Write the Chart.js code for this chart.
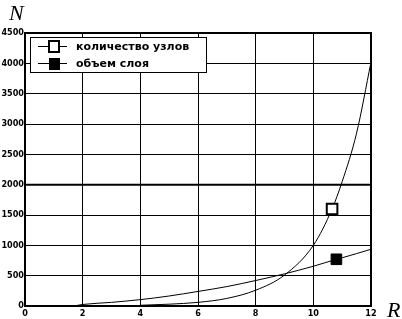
<!DOCTYPE html>
<html>
<head>
<meta charset="utf-8">
<script src="https://cdn.jsdelivr.net/npm/chart.js@4.4.1/dist/chart.umd.min.js"></script>
<style>
  html, body { margin: 0; padding: 0; background: #fff; }
  #wrap { position: relative; width: 402px; height: 319px; }
</style>
</head>
<body>
<div id="wrap"><canvas id="chart" width="402" height="319"></canvas></div>
<script>
  // ---------- Данные ----------
  const nodesR = [4, 5, 6, 7, 8, 9, 10, 10.65, 11, 11.5, 12];
  const nodesN = [12, 30, 60, 125, 260, 510, 1000, 1600, 2050, 2850, 4020];
  const volR = [1.7, 2, 3, 4, 5, 6, 7, 8, 9, 10, 10.8, 11, 12];
  const volN = [0, 25, 60, 105, 165, 240, 320, 420, 530, 655, 770, 795, 935];
  const xTicks = [0, 2, 4, 6, 8, 10, 12];
  const yTicks = [0, 500, 1000, 1500, 2000, 2500, 3000, 3500, 4000, 4500];
  const seriesNames = ['количество узлов', 'объем слоя'];
  const markerAt = [7, 10]; // индекс точки с маркером

  const toXY = (xs, ys) => xs.map((x, i) => ({ x, y: ys[i] }));
  const radii = (n, k) => Array.from({ length: n }, (_, i) => (i === k ? 7.5 : 0));

  // ---------- Рамка, подписи осей, легенда ----------
  const decor = {
    id: 'decor',
    beforeDatasetsDraw(chart) {
      const { ctx, chartArea: a } = chart;
      const y2000 = chart.scales.y.getPixelForValue(2000);
      ctx.save();
      ctx.strokeStyle = '#000';
      ctx.lineWidth = 2;
      ctx.beginPath();
      ctx.moveTo(a.left, y2000);
      ctx.lineTo(a.right, y2000);
      ctx.stroke();
      ctx.restore();
    },
    afterDraw(chart) {
      const { ctx, chartArea: a } = chart;
      ctx.save();
      ctx.strokeStyle = '#000';
      ctx.lineWidth = 2;
      ctx.strokeRect(a.left, a.top, a.right - a.left, a.bottom - a.top);

      // подписи осей
      ctx.fillStyle = '#000';
      ctx.font = 'italic 22px "Liberation Serif", serif';
      ctx.textBaseline = 'alphabetic';
      ctx.textAlign = 'left';
      ctx.fillText('N', 9, 20);
      ctx.fillText('R', 387, 317);

      // легенда
      const bx = a.left + 5, by = a.top + 4, bw = 176, bh = 35;
      ctx.fillStyle = '#fff';
      ctx.fillRect(bx, by, bw, bh);
      ctx.lineWidth = 1;
      ctx.strokeRect(bx + 0.5, by + 0.5, bw, bh);
      const rows = [by + 9, by + 26];
      rows.forEach((ry, i) => {
        ctx.beginPath();
        ctx.moveTo(bx + 8, ry + 0.5);
        ctx.lineTo(bx + 37, ry + 0.5);
        ctx.stroke();
        const mx = bx + 24;
        if (i === 0) {
          ctx.fillStyle = '#fff';
          ctx.fillRect(mx - 5, ry - 5, 10, 11);
          ctx.lineWidth = 2;
          ctx.strokeRect(mx - 5, ry - 5, 10, 11);
          ctx.lineWidth = 1;
        } else {
          ctx.fillStyle = '#000';
          ctx.fillRect(mx - 5, ry - 5, 11, 12);
        }
        ctx.fillStyle = '#000';
        ctx.font = 'bold 11px "DejaVu Sans", sans-serif';
        ctx.textBaseline = 'middle';
        ctx.fillText(seriesNames[i], bx + 46, ry + 1);
      });
      ctx.restore();
    }
  };

  const tickFont = { family: '"DejaVu Sans Condensed", "DejaVu Sans", sans-serif', size: 9, weight: 'bold' };
  const plain = v => String(v);

  new Chart(document.getElementById('chart'), {
    type: 'line',
    data: {
      datasets: [
        {
          label: seriesNames[0],
          data: toXY(nodesR, nodesN),
          borderColor: '#000',
          borderWidth: 1,
          cubicInterpolationMode: 'monotone',
          pointStyle: 'rect',
          pointRadius: radii(nodesR.length, markerAt[0]),
          pointBackgroundColor: '#fff',
          pointBorderColor: '#000',
          pointBorderWidth: 2
        },
        {
          label: seriesNames[1],
          data: toXY(volR, volN),
          borderColor: '#000',
          borderWidth: 1,
          cubicInterpolationMode: 'monotone',
          pointStyle: 'rect',
          pointRadius: radii(volR.length, markerAt[1]),
          pointBackgroundColor: '#000',
          pointBorderColor: '#000',
          pointBorderWidth: 1
        }
      ]
    },
    options: {
      responsive: false,
      animation: false,
      events: [],
      layout: { padding: { top: 33, right: 31, left: 0, bottom: 0 } },
      plugins: { legend: { display: false }, tooltip: { enabled: false } },
      scales: {
        x: {
          type: 'linear', min: 0, max: 12,
          afterBuildTicks: s => { s.ticks = xTicks.map(v => ({ value: v })); },
          afterFit: s => { s.height = 13; },
          grid: { color: '#000', lineWidth: 1, drawTicks: false },
          border: { color: '#000', width: 2 },
          ticks: { color: '#000', font: tickFont, padding: 2, callback: plain }
        },
        y: {
          type: 'linear', min: 0, max: 4500,
          afterBuildTicks: s => { s.ticks = yTicks.map(v => ({ value: v })); },
          afterFit: s => { s.width = 25; },
          grid: { color: '#000', lineWidth: 1, drawTicks: false },
          border: { color: '#000', width: 2 },
          ticks: { color: '#000', font: tickFont, padding: 1, callback: plain }
        }
      }
    },
    plugins: [decor]
  });
</script>
</body>
</html>
